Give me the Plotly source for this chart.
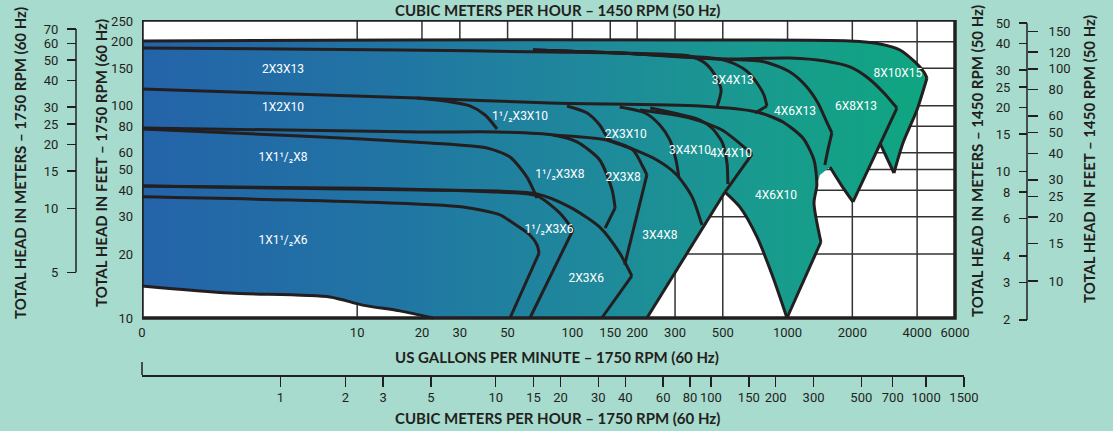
import math
import plotly.graph_objects as go

# ---------------- DATA (US gpm and feet of head, 1750 RPM / 60 Hz) ----------------
# outer envelope of the whole coverage area
ENV_GPM = [1, 392, 1950, 2687, 3329, 3908, 4303, 4446, 3993, 3438, 3122, 2687, 2014, 1790, 1574,
           1414, 1368, 1327, 1429, 994, 855, 721, 601, 512, 222, 22.5, 15.8, 10.6, 7.47, 2.56, 1]
ENV_FT = [201.8, 204, 201.8, 195.3, 183, 160.7, 144.1, 135.0, 95.4, 66.7, 48.2, 66.7, 35.2, 41.8, 51.4,
          47.2, 42.3, 34.8, 22.8, 10, 15.6, 24.1, 33.3, 39.2, 10, 10, 10.8, 11.5, 12.56, 13.1, 14.15]

# visible outline of each pump model (None separates pieces that meet at a sharp corner)
P_8X10X15_GPM = [1, 15.8, 392, 1950, 2687, 3329, 3908, 4303, 4446, None, 4446, 3993, 3438, 3122, None, 3122, 2687]
P_8X10X15_FT = [201.8, 204, 204, 201.8, 195.3, 183, 160.7, 144.1, 135.0, None, 135.0, 95.4, 66.7, 48.2, None, 48.2, 66.7]

P_6X8X13_GPM = [65.6, 166, 485, 1026, 1491, 1950, 2365, 2805, 3223, None, 3223, 2014, None, 2014, 1790, 1574]
P_6X8X13_FT = [183, 177, 166, 167.8, 162.4, 152.2, 135.0, 114.8, 97.5, None, 97.5, 35.2, None, 35.2, 41.8, 51.4]

P_4X6X13_GPM = [65.6, 166, 485, 785, 1026, 1218, 1384, 1507, 1607, None, 1607, 1540, 1491]
P_4X6X13_FT = [183, 177, 166, 160.7, 144.1, 123.8, 103.0, 85.6, 74.4, None, 74.4, 61.9, 52.6]

P_3X4X13_GPM = [65.6, 166, 485, 570, 655, 721, 777, 802, None, 802, 706]
P_3X4X13_FT = [183, 177, 166, 157.2, 144.1, 127.9, 112.3, 99.7, None, 99.7, 92.4]

P_2X3X13_GPM = [1, 15.8, 78.7, 255, 352, 413, 460, 491, 470]
P_2X3X13_FT = [187, 183, 179, 175, 171, 158.9, 139.5, 118.6, 98.6]

P_4X6X10_GPM = [1, 19.0, 78.7, 392, 721, 952, 1179, 1327, 1368, 1327, 1429, None, 1429, 994, None,
                994, 855, 721, 601, 512]
P_4X6X10_FT = [119.9, 108.7, 103.0, 99.7, 93.4, 83.8, 70.4, 55.5, 42.3, 34.8, 22.8, None, 22.8, 10, None,
               10, 15.6, 24.1, 33.3, 39.2]

P_4X4X10_GPM = [206, 352, 496, 684, None, 684, 512]
P_4X4X10_FT = [95.4, 87.5, 76.8, 59.2, None, 59.2, 39.2]

P_3X4X10_GPM = [230, 392, 445, 496, 523, 528]
P_3X4X10_FT = [97.5, 85.6, 78.5, 67.5, 53.7, 42.8]

P_2X3X10_GPM = [166, 218, 255, 284, 303, 313]
P_2X3X10_FT = [98.6, 92.4, 81.1, 68.9, 55.5, 45.6]

P_1H3X10_GPM = [94.4, 117, 134, 145, 153]
P_1H3X10_FT = [99.7, 92.4, 81.1, 71.2, 67.5]

P_1X2X10_GPM = [19.0, 25.6, 33.4, 39.3, 44.7]
P_1X2X10_FT = [108.7, 105.2, 99.7, 90.4, 77.7]

P_3X4X8_GPM = [145, 195, 247, 306, 360, 400, None, 512, 222]
P_3X4X8_FT = [68.9, 61.9, 55.5, 47.2, 37.2, 27.4, None, 39.2, 10]

P_2X3X8_GPM = [81.3, 145, 191, 213, 222, None, 222, 175]
P_2X3X8_FT = [72.8, 68.9, 61.9, 51.4, 47.2, None, 47.2, 17.8]

P_1H3X8_GPM = [1, 19.6, 44.7, 81.3, 105, 134, 153, 158, None, 158, 142]
P_1H3X8_FT = [78.5, 75.2, 75.2, 72.8, 67.5, 55.5, 40.1, 33.0, None, 33.0, 26.5]

P_1X1HX8_GPM = [1, 5.42, 21.8, 40.1, 51.3, 61.5, 68.5]
P_1X1HX8_FT = [77.7, 72.0, 66.7, 63.2, 57.3, 46.1, 36.7]

P_2X3X6_GPM = [1, 19.6, 68.5, 97.4, 134, 166, 189, None, 189, 137]
P_2X3X6_FT = [41.8, 40.1, 38.4, 33.3, 26.8, 20.2, 15.8, None, 15.8, 10]

P_1H3X6_GPM = [1, 10.6, 44.7, 68.5, 87.5, 100.7, None, 100.7, 63.5]
P_1H3X6_FT = [41.8, 40.9, 39.2, 37.6, 31.2, 26.0, None, 26.0, 10]

P_1X1HX6_GPM = [1, 10.6, 31.0, 46.1, 53.0, 63.5, 68.5, 70.0, None, 70.0, 51.3]
P_1X1HX6_FT = [37.2, 35.2, 33.3, 30.6, 28.0, 24.6, 22.1, 20.2, None, 20.2, 10]

MIN_1X1HX6_GPM = [1, 2.56, 7.47, 10.6, 15.8, 22.5]
MIN_1X1HX6_FT = [14.15, 13.1, 12.56, 11.5, 10.8, 10]

LABEL_TEXT = ["2X3X13", "1X2X10", "1X1¹/₂X8", "1X1¹/₂X6", "1¹/₂X3X10", "1¹/₂X3X8", "1¹/₂X3X6",
              "2X3X10", "2X3X8", "2X3X6", "3X4X10", "4X4X10", "3X4X8", "3X4X13", "4X6X13",
              "6X8X13", "8X10X15", "4X6X10"]
LABEL_GPM = [4.52, 4.52, 4.52, 4.52, 57.1, 87.5, 77.9, 177, 172, 116, 352, 546, 255, 557, 1082,
             2079, 3258, 883]
LABEL_FT = [147.3, 97.5, 56.8, 23.0, 88.5, 47.2, 26.0, 72.8, 45.6, 15.3, 61.2, 59.2, 24.3, 130.7,
            93.4, 98.6, 141.0, 37.6]

GPM_TICKS = [1, 10, 20, 30, 50, 100, 150, 200, 300, 500, 1000, 2000, 4000, 6000]
GPM_TICKTEXT = ["0", "10", "20", "30", "50", "100", "150", "200", "300", "500", "1000", "2000",
                "4000", "6000"]
FT_TICKS = [10, 20, 30, 40, 50, 60, 80, 100, 150, 200, 250]
M60_TICKS = [5, 10, 15, 20, 25, 30, 40, 50, 60, 70]
M50_TICKS = [2, 3, 4, 6, 8, 10, 15, 20, 25, 30, 40, 50]
FT50_TICKS = [10, 15, 20, 25, 30, 40, 50, 60, 80, 100, 120, 150]
M3H_TICKS = [1, 2, 3, 5, 10, 15, 20, 30, 40, 60, 80, 100, 150, 200, 300, 500, 700, 1000, 1500]
GRID_GPM = [10, 20, 30, 50, 100, 150, 200, 300, 500, 1000, 2000, 4000]
GRID_FT = [20, 30, 40, 50, 60, 80, 100, 150, 200]

GPM_MIN, GPM_MAX = 1, 6000
FT_MIN, FT_MAX = 10, 253.3
M_PER_FT = 0.3048
GPM_PER_M3H = 4.4029
HEAD_RATIO_50HZ = 0.67

# ---------------- STYLE / GEOMETRY ----------------
W, H = 1113, 431
L, R, T, B = 142, 955, 20, 318
X_DOM_R = 964
Y_DOM_B = 324
INK = "#231f20"
BG = "#a7dbcd"
GRAD = [[0, "#2463a9"], [0.3, "#2174a4"], [0.55, "#1f879c"], [0.78, "#199a8f"], [1, "#0fa680"]]
NARROW = "Roboto, Liberation Sans Narrow, Liberation Sans, sans-serif"
TICKFONT = dict(family=NARROW, size=13, color=INK)
TITLEFONT = dict(family="Lato, Open Sans, sans-serif", size=15, color=INK, weight="bold")
LABELFONT = dict(family=NARROW, size=12, color="white")

lx0, lx1 = math.log10(GPM_MIN), math.log10(GPM_MAX)
ppd_x = (R - L) / (lx1 - lx0)
x_range = [lx0, lx1 + (X_DOM_R - R) / ppd_x]
ly0, ly1 = math.log10(FT_MIN), math.log10(FT_MAX)
ppd_y = (B - T) / (ly1 - ly0)
y_range = [ly0 - (Y_DOM_B - B) / ppd_y, ly1]


def pxx(p):
    return p / W


def pxy(p):
    return 1 - p / H


fig = go.Figure()

# filled coverage area with horizontal gradient
fig.add_trace(go.Scatter(
    x=ENV_GPM, y=ENV_FT, mode="lines", fill="toself", line=dict(width=0),
    fillgradient=dict(type="horizontal", colorscale=GRAD, start=GPM_MIN, stop=4500),
    hoverinfo="skip", showlegend=False))

outlines = [
    (P_8X10X15_GPM, P_8X10X15_FT), (P_6X8X13_GPM, P_6X8X13_FT), (P_4X6X13_GPM, P_4X6X13_FT),
    (P_3X4X13_GPM, P_3X4X13_FT), (P_2X3X13_GPM, P_2X3X13_FT), (P_4X6X10_GPM, P_4X6X10_FT),
    (P_4X4X10_GPM, P_4X4X10_FT), (P_3X4X10_GPM, P_3X4X10_FT), (P_2X3X10_GPM, P_2X3X10_FT),
    (P_1H3X10_GPM, P_1H3X10_FT), (P_1X2X10_GPM, P_1X2X10_FT), (P_3X4X8_GPM, P_3X4X8_FT),
    (P_2X3X8_GPM, P_2X3X8_FT), (P_1H3X8_GPM, P_1H3X8_FT), (P_1X1HX8_GPM, P_1X1HX8_FT),
    (P_2X3X6_GPM, P_2X3X6_FT), (P_1H3X6_GPM, P_1H3X6_FT), (P_1X1HX6_GPM, P_1X1HX6_FT),
    (MIN_1X1HX6_GPM, MIN_1X1HX6_FT),
]
for gx, gy in outlines:
    fig.add_trace(go.Scatter(x=gx, y=gy, mode="lines", connectgaps=False,
                             line=dict(color=INK, width=3, shape="spline", smoothing=0.7),
                             hoverinfo="skip", showlegend=False))

fig.add_trace(go.Scatter(x=LABEL_GPM, y=LABEL_FT, mode="text", text=LABEL_TEXT,
                         textfont=LABELFONT, hoverinfo="skip", showlegend=False))

# invisible anchor traces so that every secondary axis is drawn
for xa, ya, xv, yv in [("x2", "y", M3H_TICKS[0], FT_MIN), ("x", "y2", GPM_MIN, M60_TICKS[0]),
                       ("x", "y3", GPM_MIN, M50_TICKS[-1]), ("x", "y4", GPM_MIN, FT50_TICKS[-1])]:
    fig.add_trace(go.Scatter(x=[xv], y=[yv], xaxis=xa, yaxis=ya, mode="markers",
                             marker=dict(opacity=0), hoverinfo="skip", showlegend=False))

shapes = [dict(type="rect", xref="x", yref="y", x0=GPM_MIN, x1=GPM_MAX, y0=FT_MIN, y1=FT_MAX,
               fillcolor="white", line=dict(width=0), layer="below")]
for g in GRID_GPM:
    shapes.append(dict(type="line", xref="x", yref="y", x0=g, x1=g, y0=FT_MIN, y1=FT_MAX,
                       line=dict(color="#333333", width=1.5), layer="below"))
for f in GRID_FT:
    shapes.append(dict(type="line", xref="x", yref="y", x0=GPM_MIN, x1=GPM_MAX, y0=f, y1=f,
                       line=dict(color="#333333", width=1.5), layer="below"))
shapes.append(dict(type="rect", xref="x", yref="y", x0=GPM_MIN, x1=GPM_MAX, y0=FT_MIN, y1=FT_MAX,
                   line=dict(color=INK, width=3.5), layer="above"))
shapes.append(dict(type="line", xref="paper", yref="y2", x0=pxx(76), x1=pxx(76),
                   y0=min(M60_TICKS), y1=max(M60_TICKS), line=dict(color=INK, width=1.5)))
shapes.append(dict(type="line", xref="paper", yref="y3", x0=pxx(1027), x1=pxx(1027),
                   y0=min(M50_TICKS), y1=max(M50_TICKS), line=dict(color=INK, width=1.5)))
shapes.append(dict(type="line", xref="paper", yref="paper", x0=pxx(L), x1=pxx(L),
                   y0=pxy(375), y1=pxy(362), line=dict(color=INK, width=1.5)))

common = dict(showgrid=False, zeroline=False, fixedrange=True, tickfont=TICKFONT, automargin=False)

fig.update_layout(
    width=W, height=H, margin=dict(l=0, r=0, t=0, b=0, autoexpand=False),
    paper_bgcolor=BG, plot_bgcolor=BG, hovermode=False, showlegend=False,
    shapes=shapes,
    xaxis=dict(type="log", domain=[pxx(L), pxx(X_DOM_R)], range=x_range, anchor="free",
               position=pxy(B), tickvals=GPM_TICKS, ticktext=GPM_TICKTEXT, ticks="",
               showline=False, ticklabelstandoff=5, **common),
    xaxis2=dict(type="log", overlaying="x", anchor="free", position=pxy(375), side="bottom",
                range=[r - math.log10(GPM_PER_M3H) for r in x_range], tickvals=M3H_TICKS,
                ticks="outside", ticklen=10, tickwidth=1.5, tickcolor=INK, showline=True,
                linecolor=INK, linewidth=1.5, ticklabelstandoff=0, **common),
    yaxis=dict(type="log", domain=[pxy(Y_DOM_B), pxy(T)], range=y_range, anchor="free",
               position=pxx(L), side="left", tickvals=FT_TICKS, ticks="", showline=False,
               ticklabelstandoff=9, **common),
    yaxis2=dict(type="log", overlaying="y", anchor="free", position=pxx(76), side="left",
                range=[r + math.log10(M_PER_FT) for r in y_range], tickvals=M60_TICKS,
                ticks="outside", ticklen=9, tickwidth=1.5, tickcolor=INK, showline=False,
                ticklabelstandoff=6, **common),
    yaxis3=dict(type="log", overlaying="y", anchor="free", position=pxx(1027), side="left",
                range=[r + math.log10(M_PER_FT * HEAD_RATIO_50HZ) for r in y_range],
                tickvals=M50_TICKS, ticks="outside", ticklen=8, tickwidth=1.5, tickcolor=INK,
                showline=False, ticklabelstandoff=6, **common),
    yaxis4=dict(type="log", overlaying="y", anchor="free", position=pxx(1027), side="right",
                range=[r + math.log10(HEAD_RATIO_50HZ) for r in y_range],
                tickvals=FT50_TICKS, ticks="outside", ticklen=10, tickwidth=1.5, tickcolor=INK,
                showline=False, ticklabelstandoff=8, **common),
)

titles = [
    ("CUBIC METERS PER HOUR – 1450 RPM (50 Hz)", 557, 0, 0, "top"),
    ("US GALLONS PER MINUTE – 1750 RPM (60 Hz)", 557, 357, 0, "middle"),
    ("CUBIC METERS PER HOUR – 1750 RPM (60 Hz)", 557, 418, 0, "middle"),
    ("TOTAL HEAD IN METERS – 1750 RPM (60 Hz)", 20, 163, -90, "middle"),
    ("TOTAL HEAD IN FEET – 1750 RPM (60 Hz)", 101, 163, -90, "middle"),
    ("TOTAL HEAD IN METERS – 1450 RPM (50 Hz)", 977, 161, -90, "middle"),
    ("TOTAL HEAD IN FEET – 1450 RPM (50 Hz)", 1089, 159, -90, "middle"),
]
for text, x, y, ang, ya in titles:
    fig.add_annotation(text=text, xref="paper", yref="paper", x=pxx(x), y=pxy(y),
                       xanchor="center", yanchor=ya, showarrow=False, textangle=ang,
                       font=TITLEFONT, borderpad=0)

# the page itself: no body margin, so the figure fills the window exactly
fig.write_html("out.html", config={"displayModeBar": False, "staticPlot": True},
               post_script="document.body.style.margin='0px';"
                           "document.body.style.backgroundColor='" + BG + "';")
